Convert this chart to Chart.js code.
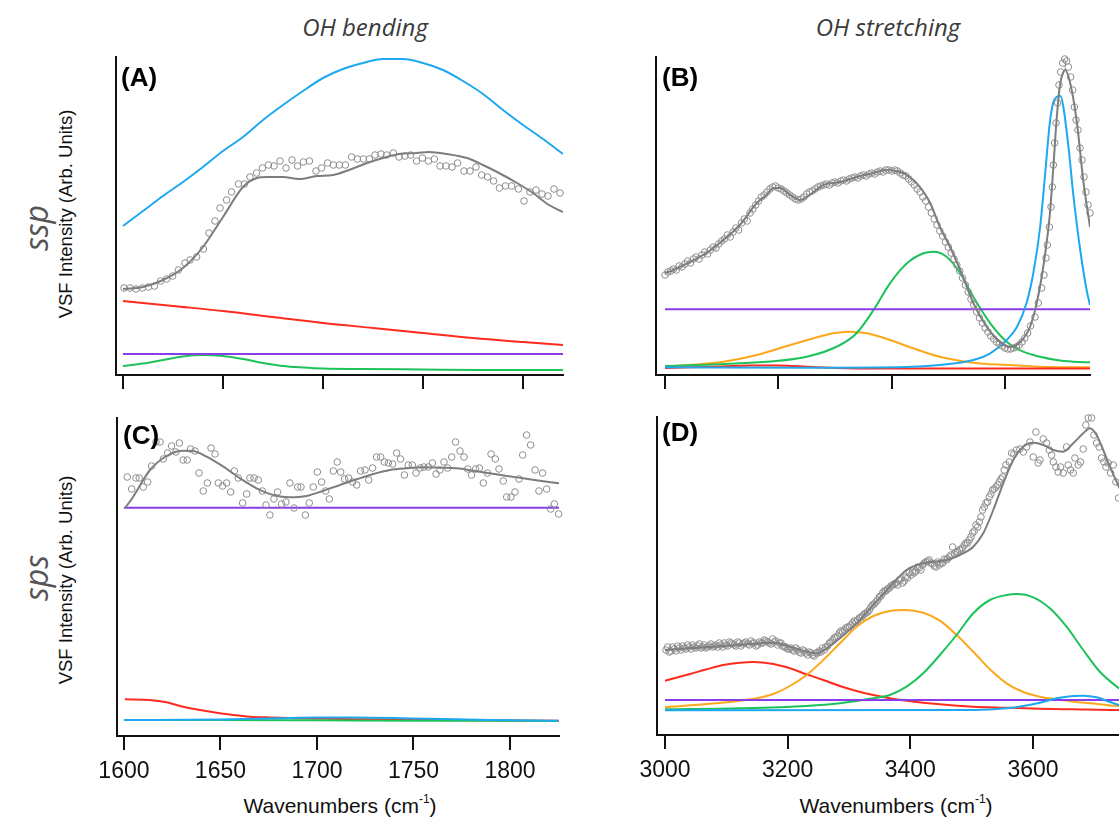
<!DOCTYPE html>
<html><head><meta charset="utf-8">
<script src="https://cdn.jsdelivr.net/npm/chart.js@4.4.1/dist/chart.umd.min.js"></script>
<style>
html,body{margin:0;padding:0;background:#fff;}
body{width:1119px;height:817px;overflow:hidden;position:relative;font-family:"Liberation Sans",Arial,sans-serif;}
canvas{position:absolute;}
.t{position:absolute;white-space:nowrap;line-height:1;}
.col{font-family:"Open Sans";font-style:italic;font-size:24px;color:#3a3a3a;transform:translate(-50%,-50%);}
.row{font-family:"Open Sans";font-style:italic;font-size:32px;color:#555;transform:translate(-50%,-50%) rotate(-90deg);}
.ylab{font-size:18.5px;color:#111;transform:translate(-50%,-50%) rotate(-90deg);}
.xlab{font-size:21px;color:#111;transform:translate(-50%,-50%);}
.xlab sup{font-size:12px;position:relative;top:-2px;}
.pl{font-weight:bold;font-size:26px;color:#000;}
</style></head>
<body>
<div class="t col" style="left:365px;top:27px">OH bending</div>
<div class="t col" style="left:888px;top:27px">OH stretching</div>
<div class="t row" style="left:36px;top:228px">ssp</div>
<div class="t ylab" style="left:66px;top:214px">VSF Intensity (Arb. Units)</div>
<div class="t row" style="left:36px;top:578px">sps</div>
<div class="t ylab" style="left:66px;top:580px">VSF Intensity (Arb. Units)</div>
<div class="t xlab" style="left:340px;top:805px">Wavenumbers (cm<sup>-1</sup>)</div>
<div class="t xlab" style="left:896px;top:805px">Wavenumbers (cm<sup>-1</sup>)</div>
<canvas id="cA"></canvas><canvas id="cB"></canvas><canvas id="cC"></canvas><canvas id="cD"></canvas>
<div class="t pl" style="left:121px;top:64px">(A)</div>
<div class="t pl" style="left:662px;top:64px">(B)</div>
<div class="t pl" style="left:123px;top:422px">(C)</div>
<div class="t pl" style="left:662px;top:419px">(D)</div>
<script>
// ---------- tick labels ----------
const bendTicks = [1600, 1650, 1700, 1750, 1800];
const stretchTicks = [3000, 3200, 3400, 3600];

// ---------- Panel A : ssp, OH bending ----------
const A_fit = [[1600,86],[1610,88],[1620,95],[1630,107],[1640,128],[1650,158],[1660,188],[1667,197],[1672,198],[1680,198],[1688,196],[1697,199],[1705,200],[1713,205],[1722,212],[1730,217],[1738,221],[1747,222],[1753,223],[1762,221],[1772,217],[1780,210],[1788,202],[1797,192],[1805,182],[1813,170],[1820,163]];
const A_points = [[1600.5,87],[1603.5,87],[1606.5,86],[1609.7,87],[1612.7,88],[1615.7,89],[1618.8,94],[1621.8,96],[1624.8,99],[1627.7,105],[1631,112],[1633.5,115],[1636.8,118],[1640.2,126],[1643,142],[1646,154],[1648.5,167],[1651.8,175],[1654.3,183],[1657.7,191],[1660.7,191],[1663.5,198],[1666.8,202],[1669.7,207],[1672.7,210],[1675.5,209],[1678.5,214],[1681.5,207],[1684.5,215],[1687.3,209],[1690.2,213],[1693.2,214],[1696.5,204],[1699.3,207],[1702.3,212],[1705.2,210],[1708.2,210],[1711.2,210],[1714.3,218],[1717.2,216],[1720.2,216],[1723.2,216],[1726,220],[1729,221],[1731.8,220],[1735.2,222],[1738,218],[1741,219],[1743.8,220],[1746.8,214],[1749.7,217],[1752.7,214],[1755.7,216],[1758.5,209],[1761.5,209],[1764.5,208],[1767.3,212],[1770.5,204],[1773.5,204],[1776.5,208],[1779.3,200],[1782.3,198],[1785.3,194],[1788.2,187],[1791.2,189],[1794.3,189],[1797.7,186],[1800.5,174],[1803.5,183],[1806.5,185],[1809.5,181],[1812.5,179],[1815.5,186],[1818.5,182]];
const A_blue = [[1600,149],[1610,164],[1620,179],[1630,193],[1640,208],[1650,224],[1660,238],[1670,255],[1680,270],[1690,284],[1700,297],[1710,306],[1720,312],[1730,316],[1740,316],[1750,312],[1760,305],[1770,294],[1780,281],[1790,265],[1800,250],[1810,236],[1820,221]];
const A_red = [[1600,74],[1625,69],[1650,64],[1675,58],[1700,52],[1725,47],[1750,42],[1775,37],[1800,33],[1820,30]];
const A_purple = [[1600,21],[1820,21]];
const A_green = [[1600,9],[1610,11.5],[1620,15],[1630,18.5],[1640,20],[1650,19],[1660,16],[1670,12],[1680,9],[1690,7.5],[1700,6.5],[1720,6],[1750,5.5],[1780,5],[1820,5]];

// ---------- Panel B : ssp, OH stretching ----------
const B_fit = [[3000,102],[3015,105],[3044,113],[3073,122],[3103,135],[3132,150],[3162,172],[3179,180],[3191,187],[3203,187],[3221,180],[3238,175],[3262,183],[3279,190],[3309,193],[3338,198],[3368,202],[3391,205],[3415,203],[3432,198],[3450,188],[3468,172],[3485,148],[3503,128],[3521,105],[3544,72],[3568,48],[3591,33],[3609,28],[3627,33],[3644,48],[3656,72],[3668,110],[3679,160],[3685,205],[3691,255],[3697,290],[3703,303],[3706,305],[3715,292],[3727,252],[3738,195],[3750,148]];
const B_points = [[3000,100],[3005,103],[3010,104],[3015,106],[3020,105],[3025,109],[3030,108],[3035,111],[3040,114],[3045,112],[3050,116],[3055,118],[3060,116],[3065,120],[3070,123],[3075,121],[3080,125],[3085,128],[3090,127],[3095,131],[3100,134],[3105,136],[3110,140],[3115,138],[3120,143],[3125,147],[3130,145],[3135,152],[3140,156],[3145,154],[3150,162],[3155,166],[3160,170],[3165,174],[3170,178],[3175,180],[3180,183],[3185,186],[3190,188],[3195,189],[3200,187],[3205,186],[3210,184],[3215,182],[3220,180],[3225,178],[3230,176],[3235,175],[3240,176],[3245,178],[3250,181],[3255,183],[3260,184],[3265,186],[3270,188],[3275,189],[3280,190],[3285,191],[3290,190],[3295,192],[3300,193],[3305,192],[3310,194],[3315,195],[3320,194],[3325,196],[3330,197],[3335,198],[3340,197],[3345,199],[3350,200],[3355,199],[3360,201],[3365,202],[3370,201],[3375,203],[3380,204],[3385,203],[3390,205],[3395,205],[3400,204],[3405,205],[3410,204],[3415,202],[3420,200],[3425,199],[3430,196],[3435,193],[3440,190],[3445,186],[3450,183],[3455,178],[3460,174],[3465,168],[3470,162],[3475,156],[3480,150],[3485,144],[3490,139],[3495,133],[3500,128],[3505,122],[3510,116],[3515,110],[3520,104],[3525,97],[3530,90],[3535,83],[3540,76],[3545,70],[3550,63],[3555,57],[3560,52],[3565,47],[3570,43],[3575,39],[3580,36],[3585,33],[3590,31],[3595,29],[3600,27],[3605,26],[3610,26],[3615,27],[3620,28],[3625,30],[3630,33],[3635,37],[3640,42],[3645,49],[3653,58],[3658.8,72],[3664.7,87],[3668.8,100],[3672.4,117],[3674.7,130],[3678.2,148],[3681.2,168],[3683.5,188],[3685.3,210],[3687.6,232],[3690,252],[3692.9,272],[3695.3,290],[3698.2,303],[3701.8,312],[3705.3,316],[3708.8,314],[3711.8,308],[3715.9,298],[3719.4,285],[3722.4,268],[3725.3,255],[3728.8,245],[3732.4,227],[3735.9,215],[3739.4,198],[3742.9,183],[3746.5,170],[3750,162]];
const B_blue = [[3000,7.7],[3250,7.3],[3426,8],[3485,10],[3544,15],[3574,21.7],[3603,35],[3621,48],[3638,72],[3650,102],[3662,148],[3671,202],[3679,252],[3685,272],[3691,278],[3698,279],[3703,268],[3712,228],[3721,178],[3732,128],[3744,85],[3750,70]];
const B_green = [[3000,9],[3132,11.7],[3250,18.3],[3309,30],[3338,41.7],[3368,65],[3397,91.7],[3427,111.7],[3456,121.7],[3474,123.3],[3497,118.3],[3521,101.7],[3544,78.3],[3574,51.7],[3603,33.3],[3632,23.3],[3662,18.3],[3691,15],[3721,13.3],[3750,12.7]];
const B_orange = [[3000,8.3],[3103,13.3],[3162,20],[3221,30],[3262,36.7],[3297,41.7],[3324,43.3],[3356,41.7],[3397,35],[3438,26.7],[3485,18.3],[3544,12.3],[3603,10],[3662,8.3],[3750,7.7]];
const B_red = [[3000,7],[3100,8.5],[3150,9.5],[3200,9.5],[3260,8],[3350,6.5],[3750,6.5]];
const B_purple = [[3000,65.7],[3750,65.7]];

// ---------- Panel C : sps, OH bending ----------
const C_fit = [[1600.5,227.7],[1604.8,239.3],[1613.5,266],[1622.1,280],[1630.7,285.3],[1635.9,285],[1642.8,279.3],[1651.5,269.3],[1660.1,257.7],[1668.7,247.7],[1677.4,241],[1686,238.7],[1694.6,240],[1703.3,245.3],[1711.9,251],[1720.6,256.7],[1729.2,262],[1737.8,266],[1746.5,267.7],[1755.1,268.7],[1763.7,268.3],[1772.4,267.7],[1781,265.3],[1789.6,262.7],[1798.3,260],[1806.9,257.7],[1815.5,255.3],[1825.4,252.7]];
const C_points = [[1601.7,259],[1604,247],[1606.2,258],[1607.9,258],[1610,249],[1612.3,254],[1614.3,270],[1616.6,294],[1618.7,294],[1620.4,277],[1622.6,283],[1624.7,290],[1626.9,284],[1628.7,293],[1630.7,276],[1632.8,276],[1634.5,287],[1636.8,285],[1638.9,263],[1641.1,245],[1643.2,253],[1645.1,288],[1647.2,282],[1648.9,253],[1651.1,250],[1653.2,253],[1655.3,244],[1657.2,265],[1659.2,258],[1661.5,233],[1663.6,242],[1665.3,258],[1667.4,258],[1669.6,256],[1671.7,245],[1673.6,231],[1675.6,221],[1677.7,237],[1679.6,244],[1681.7,232],[1683.9,234],[1686,253],[1688.1,228],[1690,249],[1691.7,249],[1694,221],[1696,233],[1698.1,249],[1700.2,264],[1702.4,254],[1704.5,245],[1706.4,237],[1708.5,265],[1710.5,274],[1712.3,264],[1714.3,257],[1716.4,258],[1718.5,254],[1720.6,251],[1722.6,265],[1724.9,266],[1726.8,256],[1728.8,268],[1730.9,279],[1733,279],[1734.9,274],[1737,273],[1739.2,272],[1741.3,283],[1743.3,277],[1745.3,261],[1747.3,271],[1749.4,271],[1751.3,263],[1753.4,268],[1755.4,269],[1757.7,269],[1759.8,273],[1761.7,262],[1763.7,266],[1765.8,274],[1767.7,268],[1769.8,279],[1771.8,294],[1774.1,285],[1776.2,279],[1778.1,267],[1780.1,261],[1782.2,267],[1784.1,268],[1786.2,253],[1788.3,263],[1790.2,282],[1792.4,277],[1794.3,267],[1796.5,255],[1798.3,239],[1800.5,239],[1802.6,244],[1804.7,257],[1806.6,281],[1808.6,301],[1810.7,291],[1813,266],[1815,245],[1816.9,263],[1819,247],[1821.1,227],[1823,232],[1825.2,222]];
const C_purple = [[1600,228.3],[1825.4,228.3]];
const C_red = [[1600.5,36.7],[1613.5,36],[1622.1,33.7],[1630.7,29.3],[1639.4,26],[1648,23.3],[1656.6,21],[1665.3,19.3],[1673.9,18.7],[1691.2,17.7],[1725.7,16.7],[1760.3,16],[1825.4,15.3]];
const C_green = [[1600,16],[1650,16],[1700,15.7],[1750,15.3],[1800,15.3],[1825,15]];
const C_blue = [[1600,16],[1650,16.5],[1680,17.8],[1700,18.5],[1720,18.5],[1750,17.5],[1790,16],[1825,15.3]];

// ---------- Panel D : sps, OH stretching ----------
const D_fit = [[3000,85],[3040.7,86.7],[3067.9,87.7],[3122.3,90],[3176.6,92.3],[3203.7,88.3],[3230.9,83.3],[3247.2,81.7],[3263.5,86.7],[3285.2,96.7],[3312.4,111.7],[3339.6,130],[3366.7,148.3],[3393.9,165],[3421.1,171.7],[3437.4,173.3],[3459.1,175],[3480.8,180],[3502.6,188.3],[3518.9,201.7],[3535.2,225],[3551.5,251.7],[3567.8,275],[3584.1,288.3],[3600.4,292.3],[3616.7,290],[3633,285],[3649.3,283.3],[3665.6,291.7],[3681.9,301.7],[3692.8,306.7],[3703.6,300],[3714.5,285],[3725.4,268.3],[3740,248.3],[3750,235]];
const D_points = [[3001.6,85],[3007.1,83],[3012.5,88],[3017.9,84],[3023.4,87],[3028.8,89],[3034.2,86],[3039.7,88],[3045.1,90],[3050.5,87],[3056,91],[3061.4,88],[3066.8,87],[3072.3,89],[3077.7,88],[3083.1,90],[3088.6,92],[3094,88],[3099.4,90],[3104.9,93],[3110.3,91],[3115.7,89],[3121.2,92],[3126.6,91],[3132,93],[3137.5,90],[3142.9,92],[3148.3,89],[3153.8,93],[3159.2,92],[3164.6,94],[3170.1,92],[3175.5,96],[3180.9,94],[3186.4,92],[3191.8,89],[3197.2,88],[3202.7,86],[3208.1,85],[3213.5,87],[3219,83],[3224.4,85],[3229.8,82],[3235.3,83],[3240.7,80],[3246.1,82],[3251.6,84],[3257,87],[3262.4,88],[3267.9,92],[3273.3,95],[3278.7,98],[3284.2,102],[3289.6,103],[3295,107],[3300.5,108],[3305.9,112],[3311.3,113],[3316.8,117],[3322.2,119],[3327.6,122],[3333.1,125],[3338.5,130],[3343.9,133],[3349.4,138],[3354.8,142],[3360.2,144],[3365.7,147],[3371.1,150],[3376.5,152],[3382,155],[3387.4,152],[3392.8,158],[3398.3,162],[3403.7,163],[3409.1,164],[3414.6,167],[3420,170],[3425.4,173],[3430.9,175],[3436.3,171],[3441.7,168],[3447.2,170],[3452.6,172],[3458,175],[3463.5,178],[3468.9,188],[3474.3,183],[3479.8,185],[3485.2,187],[3490.6,192],[3496.1,195],[3501.5,202],[3506.9,210],[3512.4,213],[3517.8,225],[3523.2,232],[3528.7,238],[3534.1,245],[3539.5,248],[3545,253],[3550.4,258],[3555.8,270],[3561.3,273],[3565.1,282],[3568.9,281],[3573.2,285],[3578.6,286],[3584.1,283],[3589.5,288],[3595,293],[3600.4,278],[3604.7,303],[3608.5,272],[3611.3,275],[3616.7,296],[3622.1,292],[3626.5,285],[3630.3,280],[3633,273],[3637.3,268],[3641.1,263],[3644.9,268],[3649.3,262],[3654.7,288],[3657.4,270],[3661.2,265],[3665.6,262],[3668.3,277],[3673.7,270],[3677.5,273],[3681.9,286],[3686.2,310],[3690,317],[3695.5,317],[3699.3,300],[3703.6,292],[3707.9,288],[3711.8,277],[3715.6,273],[3718.8,268],[3722.6,272],[3726.4,262],[3730.8,270],[3735.1,253],[3739.5,237],
[3004.3,88],[3009.8,84],[3015.2,86],[3020.6,89],[3026.1,85],[3031.5,87],[3037,90],[3042.4,86],[3047.8,88],[3053.3,89],[3058.7,87],[3064.1,90],[3069.6,88],[3075,91],[3080.4,89],[3085.9,88],[3091.3,90],[3096.7,92],[3102.2,89],[3107.6,92],[3113,90],[3118.5,93],[3123.9,89],[3129.3,92],[3134.8,91],[3140.2,94],[3145.6,92],[3151.1,90],[3156.5,92],[3161.9,95],[3167.4,93],[3172.8,91],[3178.2,93],[3183.7,90],[3189.1,92],[3194.5,88],[3200,86],[3205.4,87],[3210.8,84],[3216.3,85],[3221.7,82],[3227.1,84],[3232.6,80],[3238,82],[3243.4,79],[3248.9,82],[3254.3,83],[3259.7,85],[3265.2,89],[3270.6,93],[3276,97],[3281.5,99],[3286.9,104],[3292.3,105],[3297.8,108],[3303.2,110],[3308.6,114],[3314.1,115],[3319.5,118],[3324.9,121],[3330.4,123],[3335.8,128],[3341.2,131],[3346.7,135],[3352.1,139],[3357.5,144],[3363,146],[3368.4,149],[3373.8,151],[3379.3,150],[3384.7,156],[3390.1,154],[3395.6,157],[3401,160],[3406.4,162],[3411.9,168],[3417.3,165],[3422.7,172],[3428.2,174],[3433.6,172],[3439,169],[3444.5,173],[3449.9,172],[3455.3,176],[3460.8,176],[3466.2,180],[3471.6,181],[3477.1,183],[3482.5,186],[3487.9,190],[3493.4,192],[3498.8,198],[3504.2,204],[3509.7,208],[3515.1,218],[3520.5,228],[3526,233],[3531.4,241],[3536.8,246],[3542.3,250],[3547.7,256],[3553.1,265]];
const D_red = [[3000,54.3],[3040.7,61],[3067.9,65.7],[3095.1,70],[3122.3,72.3],[3144,73],[3176.6,71],[3203.7,66.7],[3230.9,60.7],[3258.1,55],[3285.2,49],[3312.4,44],[3339.6,40],[3366.7,36.7],[3393.9,34.3],[3448.2,30.7],[3502.6,28.3],[3556.9,27.3],[3611.2,26.3],[3665.6,25.7],[3740,25],[3750,25]];
const D_orange = [[3000,27.7],[3067.9,31],[3122.3,34.3],[3149.4,36.7],[3176.6,41],[3203.7,49],[3230.9,60],[3258.1,75],[3285.2,91.7],[3312.4,108.3],[3339.6,119],[3366.7,124],[3391.2,125],[3421.1,122.3],[3448.2,114.3],[3475.4,100],[3502.6,83.3],[3529.7,65.7],[3556.9,51.7],[3584.1,43],[3611.2,38.3],[3638.4,35.7],[3665.6,33.3],[3692.7,31.7],[3740,29],[3750,28.7]];
const D_green = [[3000,25.7],[3122.3,26.7],[3230.9,29],[3285.2,31.7],[3339.6,36.7],[3366.7,40],[3393.9,48.3],[3421.1,61.7],[3448.2,80],[3475.4,100],[3502.6,121.7],[3529.7,135],[3556.9,140],[3573.2,141],[3600.4,137.7],[3627.5,126.7],[3654.7,108.3],[3681.9,85],[3709,63.3],[3740,46.7],[3750,42]];
const D_blue = [[3000,24.7],[3502.6,25],[3556.9,26.7],[3584.1,29],[3611.2,32.3],[3638.4,36.7],[3665.6,39],[3681.9,39.3],[3703.6,37.7],[3719.9,34.3],[3740,30],[3750,28.5]];
const D_purple = [[3000,35],[3750,35]];

// ---------- drawing ----------
const COL = {fit:'#7d7d7d', pts:'#8e8e8e', blue:'#1ea8ef', red:'#ff2b1f', green:'#1dc25a', orange:'#fba81c', purple:'#8a3ce9'};
function toXY(arr){ return arr.map(p => ({x:p[0], y:p[1]})); }
function curve(arr, color){
  return {data: toXY(arr), showLine:true, borderColor:color, borderWidth:2, pointRadius:0, pointHoverRadius:0, cubicInterpolationMode:'monotone', fill:false};
}
function scatter(arr){
  return {data: toXY(arr), showLine:false, pointRadius:3.3, pointHoverRadius:3.3, pointStyle:'circle', pointBorderColor:COL.pts, pointBackgroundColor:'rgba(255,255,255,0)', pointBorderWidth:1, clip:false};
}
function noPad(s){ s.paddingLeft = 0; s.paddingRight = 0; s.paddingTop = 0; s.paddingBottom = 0; }
const PAD = 40;
function panel(id, L, T, R, B, axisH, xmin, xmax, tickVals, showLabels, datasets){
  const c = document.getElementById(id);
  c.width = R - L + 2 * PAD; c.height = B - T + 10 + axisH;
  c.style.left = (L - PAD) + 'px'; c.style.top = (T - 10) + 'px';
  new Chart(c, {type:'scatter', data:{datasets}, options:{
    responsive:false, animation:false, devicePixelRatio:1, events:[],
    layout:{autoPadding:false, padding:{left:PAD, top:10, right:PAD, bottom:0}},
    plugins:{legend:{display:false}, tooltip:{enabled:false}},
    scales:{
      x:{type:'linear', min:xmin, max:xmax, afterFit:s=>{ s.height = axisH; noPad(s); },
        afterBuildTicks:s=>{ s.ticks = tickVals.map(v => ({value:v})); },
        ticks:{autoSkip:false, maxRotation:0, minRotation:0, padding:8,
          color: showLabels ? '#111' : 'rgba(0,0,0,0)', font:{family:'Liberation Sans', size:23}, callback:v=>String(v)},
        grid:{display:true, drawOnChartArea:false, drawTicks:true, tickLength:14, tickWidth:2, color:'#111', lineWidth:2},
        border:{display:true, color:'#111', width:2}},
      y:{type:'linear', min:0, max:318, afterFit:s=>{ s.width = 0; noPad(s); },
        ticks:{display:false}, grid:{display:false}, border:{display:true, color:'#111', width:2}}
    }}});
}
panel('cA', 116, 57, 563, 375, 22, 1596.5, 1820, bendTicks, false,
  [curve(A_fit, COL.fit), scatter(A_points), curve(A_purple, COL.purple), curve(A_blue, COL.blue), curve(A_green, COL.green), curve(A_red, COL.red)]);
panel('cB', 656, 57, 1090, 375, 22, 2984.1, 3750, stretchTicks, false,
  [curve(B_fit, COL.fit), scatter(B_points), curve(B_blue, COL.blue), curve(B_purple, COL.purple), curve(B_red, COL.red), curve(B_green, COL.green), curve(B_orange, COL.orange)]);
panel('cC', 117, 418, 559, 736, 50, 1596.4, 1825.4, bendTicks, true,
  [curve(C_fit, COL.fit), scatter(C_points), curve(C_purple, COL.purple), curve(C_blue, COL.blue), curve(C_green, COL.green), curve(C_red, COL.red)]);
panel('cD', 657, 417, 1125, 735, 50, 2987, 3750, stretchTicks, true,
  [curve(D_fit, COL.fit), scatter(D_points), curve(D_blue, COL.blue), curve(D_purple, COL.purple), curve(D_green, COL.green), curve(D_orange, COL.orange), curve(D_red, COL.red)]);
</script>
</body></html>
